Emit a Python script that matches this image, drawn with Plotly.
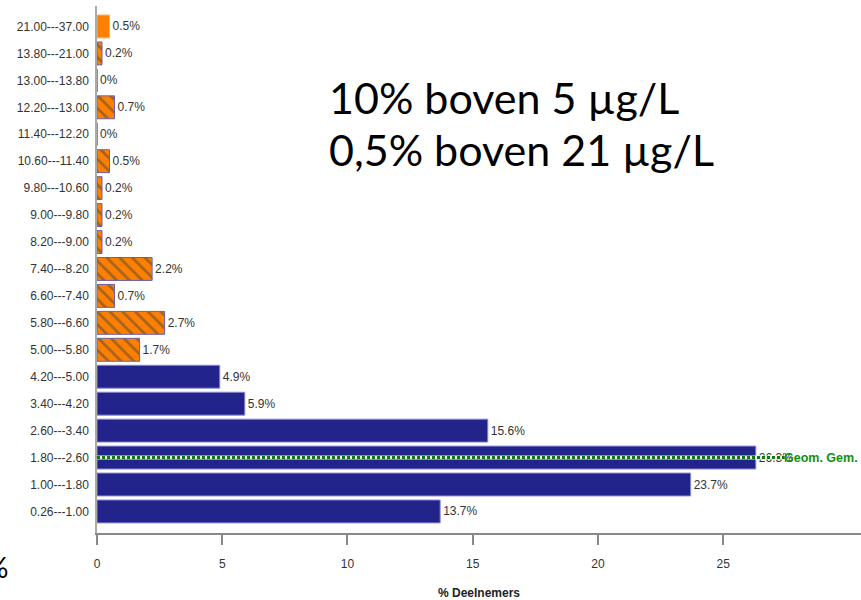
import plotly.graph_objects as go

categories = ["0.26---1.00", "1.00---1.80", "1.80---2.60", "2.60---3.40", "3.40---4.20",
              "4.20---5.00", "5.00---5.80", "5.80---6.60", "6.60---7.40", "7.40---8.20",
              "8.20---9.00", "9.00---9.80", "9.80---10.60", "10.60---11.40", "11.40---12.20",
              "12.20---13.00", "13.00---13.80", "13.80---21.00", "21.00---37.00"]
values = [13.7, 23.7, 26.3, 15.6, 5.9, 4.9, 1.7, 2.7, 0.7, 2.2,
          0.2, 0.2, 0.2, 0.5, 0, 0.7, 0, 0.2, 0.5]
# group: 0 = below 5, 1 = 5-21 (hatched), 2 = above 21
groups = [0, 0, 0, 0, 0, 0, 1, 1, 1, 1, 1, 1, 1, 1, 1, 1, 1, 1, 2]
geom_mean_category = "1.80---2.60"
geom_line_end = 27.45
geom_label = "Geom. Gem."
x_ticks = [0, 5, 10, 15, 20, 25]
note_lines = ["10% boven 5 µg/L", "0,5% boven 21 µg/L"]

NAVY = "#23238c"
ORANGE = "#ff8000"
FONT = "Liberation Sans Narrow, Arial Narrow, Liberation Sans, Arial, sans-serif"

W, H = 861, 600
L, R, T, B = 97, 0, 6, 67
PW, PH = W - L - R, H - T - B


def px_to_paper(px, py):
    return (px - L) / PW, (H - B - py) / PH


colors = [NAVY if g == 0 else ORANGE for g in groups]
shapes = ["\\" if g == 1 else "" for g in groups]
lines = ["#8a8ad0" if g == 0 else ("#6a5fa8" if g == 1 else "#ffb060") for g in groups]

fig = go.Figure()
fig.add_trace(go.Bar(
    y=categories, x=values, orientation="h",
    marker=dict(color=colors, line=dict(color=lines, width=1),
                pattern=dict(shape=shapes, fgcolor=NAVY,
                             size=9, solidity=0.3, fillmode="overlay")),
    text=[f"{v:g}%" for v in values], textposition="outside",
    textfont=dict(family=FONT, size=12, color="#333333"),
    cliponaxis=False, showlegend=False, hoverinfo="skip",
))
# geometric mean line
fig.add_trace(go.Scatter(
    x=[0, geom_line_end], y=[geom_mean_category, geom_mean_category], mode="lines",
    line=dict(color="#e8f4e8", width=4), showlegend=False, hoverinfo="skip"))
fig.add_trace(go.Scatter(
    x=[0, geom_line_end], y=[geom_mean_category, geom_mean_category], mode="lines",
    line=dict(color="#0f7a0f", width=3, dash="3px,2px"), showlegend=False, hoverinfo="skip"))

fig.add_annotation(x=geom_line_end, y=geom_mean_category, text=geom_label,
                   xref="x", yref="y", xanchor="left", yanchor="middle", showarrow=False,
                   borderpad=0, xshift=-2,
                   font=dict(family=FONT, size=12.5, color="#109010", weight="bold"))

for i, t in enumerate(note_lines):
    ax, ay = px_to_paper(327, 97 + 53 * i)
    fig.add_annotation(x=ax, y=ay, xref="paper", yref="paper",
                       text=t, showarrow=False, xanchor="left", yanchor="middle",
                       font=dict(family="Lato, Open Sans, sans-serif", size=43, color="#000000"))

# stray clipped glyph at the left edge
gx, gy = px_to_paper(-3, 567)
fig.add_annotation(x=gx, y=gy, xref="paper", yref="paper", text="%",
                   showarrow=False, xanchor="center", yanchor="middle",
                   font=dict(family="Lato, sans-serif", size=28, color="#000000"))

fig.update_layout(
    width=W, height=H,
    margin=dict(l=L, r=R, t=T, b=B),
    paper_bgcolor="white", plot_bgcolor="white",
    bargap=0.15,
    font=dict(family=FONT, size=12, color="#333333"),
    xaxis=dict(range=[0, 30.5], tickvals=x_ticks, showgrid=False, zeroline=False,
               automargin=False,
               showline=True, linecolor="#888888", linewidth=1.5,
               ticks="outside", ticklen=10, tickcolor="#888888", tickwidth=1.5,
               ticklabelstandoff=9,
               tickfont=dict(family=FONT, size=12, color="#333333"),
               title=dict(text="% Deelnemers", standoff=18,
                          font=dict(family=FONT, size=12, color="#222222", weight="bold"))),
    yaxis=dict(type="category", categoryorder="array", categoryarray=categories,
               range=[-0.8, 18.76], showgrid=False, zeroline=False, automargin=False,
               showline=True, linecolor="#aaaaaa", linewidth=1.5,
               ticks="", ticklabelstandoff=4,
               tickfont=dict(family=FONT, size=12, color="#333333")),
)

fig.write_html("out.html", config={"displayModeBar": False},
               post_script="document.body.style.margin='0';document.body.style.padding='0';")
